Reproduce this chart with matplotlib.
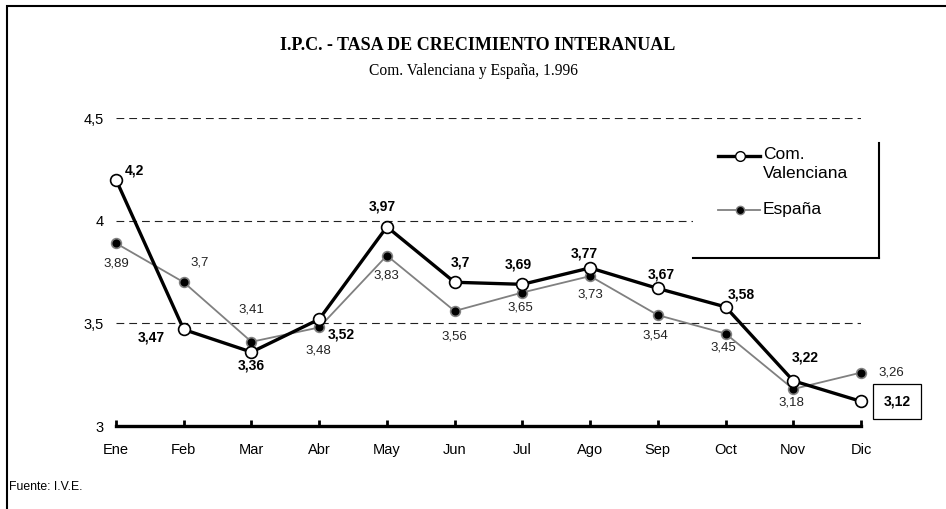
import matplotlib
matplotlib.use("Agg")
import matplotlib.pyplot as plt
from matplotlib.patches import Rectangle
from matplotlib.lines import Line2D

# datos
meses = ["Ene", "Feb", "Mar", "Abr", "May", "Jun", "Jul", "Ago", "Sep", "Oct", "Nov", "Dic"]
valencia = [4.2, 3.47, 3.36, 3.52, 3.97, 3.7, 3.69, 3.77, 3.67, 3.58, 3.22, 3.12]
espana = [3.89, 3.7, 3.41, 3.48, 3.83, 3.56, 3.65, 3.73, 3.54, 3.45, 3.18, 3.26]
yticks = [3, 3.5, 4, 4.5]
ytick_labels = ["3", "3,5", "4", "4,5"]

# desplazamiento de las etiquetas (pixeles)
off_val = [(18, 9), (-32, -8), (0, -13), (22, -15), (-5, 20), (6, 20),
           (-4, 20), (-6, 14), (3, 14), (16, 12), (12, 23), (36, 0)]
off_esp = [(0, -20), (16, 20), (0, 32), (-1, -23), (-1, -20), (0, -25),
           (-2, -15), (0, -18), (-2, -20), (-2, -14), (-2, -13), (30, 0)]

plt.rcParams["font.family"] = ["Liberation Sans", "DejaVu Sans"]

W, H = 946, 509
fig = plt.figure(figsize=(W / 100, H / 100), dpi=100)

# marco exterior
fig.add_artist(Rectangle((7 / W, -0.2), 1.2, 1.2 - 6 / H, transform=fig.transFigure,
                         fill=False, edgecolor="black", lw=1.5))

ax = fig.add_axes([116 / W, 1 - 426 / H, 745 / W, 308 / H])
x = list(range(len(meses)))

ax.plot(x, espana, color="#808080", lw=1.3, marker="o", markersize=7,
        markerfacecolor="black", markeredgecolor="#808080", markeredgewidth=1.2,
        zorder=4, clip_on=False)
ax.plot(x, valencia, color="black", lw=2.4, marker="o", markersize=8.5,
        markerfacecolor="white", markeredgecolor="black", markeredgewidth=1.2,
        zorder=5, clip_on=False)

ax.set_xlim(0, len(meses) - 1)
ax.set_ylim(3, 4.5)
ax.set_xticks(x)
ax.set_xticklabels(meses, fontsize=10.5)
ax.set_yticks(yticks)
ax.set_yticklabels(ytick_labels, fontsize=10.5)
ax.tick_params(axis="x", direction="in", length=4, width=2, pad=12)
ax.tick_params(axis="y", length=0, pad=9)

for s in ["top", "right", "left"]:
    ax.spines[s].set_visible(False)
ax.spines["bottom"].set_linewidth(2.4)
ax.spines["bottom"].set_zorder(3)

ax.yaxis.grid(True, color="#222222", lw=0.8, linestyle=(0, (7, 4.5)))
ax.set_axisbelow(True)

# etiquetas de datos
for i, v in enumerate(valencia):
    txt = f"{v:g}".replace(".", ",")
    box = None
    if i == len(valencia) - 1:
        box = dict(boxstyle="square,pad=0.75", fc="white", ec="black", lw=0.9)
    ax.annotate(txt, (i, v), xytext=off_val[i], textcoords="offset pixels",
                ha="center", va="center", fontsize=10, fontweight="bold", bbox=box,
                zorder=7)
for i, v in enumerate(espana):
    txt = f"{v:g}".replace(".", ",")
    ax.annotate(txt, (i, v), xytext=off_esp[i], textcoords="offset pixels",
                ha="center", va="center", fontsize=9.5, color="#222222", zorder=7)

# leyenda
ax.add_patch(Rectangle((0.7745, 0.5455), 0.2497, 0.3733, transform=ax.transAxes,
                       fc="white", ec="none", zorder=3, clip_on=False))
ax.add_line(Line2D([1.0242, 1.0242], [0.5455, 0.9188], transform=ax.transAxes,
                   color="black", lw=1.5, clip_on=False, zorder=3))
ax.add_line(Line2D([0.7745, 1.0242], [0.5455, 0.5455], transform=ax.transAxes,
                   color="black", lw=1.5, clip_on=False, zorder=3))
ax.add_line(Line2D([0.808, 0.8644], [0.8766, 0.8766], transform=ax.transAxes,
                   color="black", lw=2.4, clip_on=False, zorder=8))
ax.add_line(Line2D([0.8376], [0.8766], transform=ax.transAxes, marker="o", markersize=7,
                   markerfacecolor="white", markeredgecolor="black", clip_on=False, zorder=9))
ax.add_line(Line2D([0.808, 0.8644], [0.7013, 0.7013], transform=ax.transAxes,
                   color="#808080", lw=1.3, clip_on=False, zorder=8))
ax.add_line(Line2D([0.8376], [0.7013], transform=ax.transAxes, marker="o", markersize=6,
                   markerfacecolor="black", markeredgecolor="#808080", clip_on=False, zorder=9))
ax.text(0.8685, 0.905, "Com.\nValenciana", transform=ax.transAxes, fontsize=12.5,
        ha="left", va="top", linespacing=1.35, zorder=9)
ax.text(0.8685, 0.7013, "España", transform=ax.transAxes, fontsize=12.5,
        ha="left", va="center", zorder=9)

# titulos
fig.text(478 / W, 1 - 46 / H, "I.P.C. - TASA DE CRECIMIENTO INTERANUAL",
         family="Liberation Serif", fontweight="bold", fontsize=13, ha="center", va="center")
fig.text(473 / W, 1 - 71 / H, "Com. Valenciana y España, 1.996",
         family="Liberation Serif", fontsize=11.2, ha="center", va="center")
fig.text(9 / W, 1 - 487 / H, "Fuente: I.V.E.", fontsize=8.8, ha="left", va="center")

fig.savefig("out.png", dpi=100)
